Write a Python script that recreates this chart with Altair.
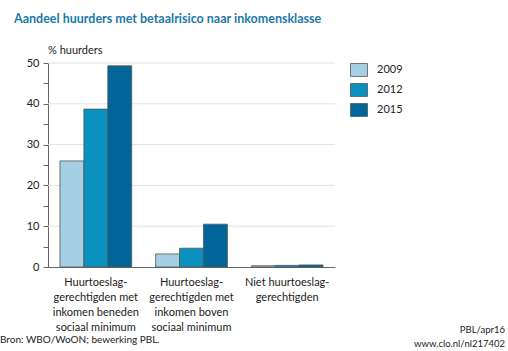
import altair as alt
import pandas as pd

categories = [
    "Huurtoeslag-|gerechtigden met|inkomen beneden|sociaal minimum",
    "Huurtoeslag-|gerechtigden met|inkomen boven|sociaal minimum",
    "Niet huurtoeslag-|gerechtigden",
]
years = ["2009", "2012", "2015"]
values_2009 = [26.0, 3.2, 0.3]
values_2012 = [38.7, 4.6, 0.4]
values_2015 = [49.3, 10.5, 0.5]
colors = ["#a5cfe4", "#0a91c0", "#00669a"]
grid_values = [10, 20, 30, 40, 50]
tick_values = [0, 5, 10, 15, 20, 25, 30, 35, 40, 45, 50]

rows = []
for yr, vals in zip(years, [values_2009, values_2012, values_2015]):
    for c, v in zip(categories, vals):
        rows.append({"cat": c, "year": yr, "value": v})
df = pd.DataFrame(rows)

FONT = "Lato"
yscale = alt.Scale(domain=[0, 50], nice=False)
yaxis = alt.Axis(
    title=None,
    values=tick_values,
    labelExpr="datum.value % 10 == 0 ? datum.label : ''",
    grid=False,
    domainColor="#666666",
    tickColor="#666666",
    tickSize=5,
    labelFont=FONT,
    labelFontSize=11,
    labelPadding=4,
    labelColor="#222222",
)

grid = alt.Chart(pd.DataFrame({"g": grid_values})).mark_rule(
    color="#e3e3e3", strokeWidth=1
).encode(y=alt.Y("g:Q", scale=yscale, axis=yaxis))

bars = alt.Chart(df).mark_bar(stroke="#555555", strokeWidth=0.8).encode(
    x=alt.X(
        "cat:N",
        sort=categories,
        scale=alt.Scale(paddingInner=0.25, paddingOuter=0.125),
        axis=alt.Axis(
            title=None,
            labelAngle=0,
            ticks=False,
            domainColor="#666666",
            labelExpr="split(datum.label, '|')",
            labelFont=FONT,
            labelFontSize=11,
            labelLineHeight=15,
            labelPadding=9,
            labelColor="#222222",
        ),
    ),
    xOffset=alt.XOffset("year:N", sort=years),
    y=alt.Y("value:Q", scale=yscale, axis=yaxis),
    color=alt.Color(
        "year:N",
        sort=years,
        scale=alt.Scale(domain=years, range=colors),
        legend=alt.Legend(
            title=None,
            orient="none",
            legendX=302,
            legendY=-2,
            symbolType="M-1,-0.76H1V0.76H-1Z",
            symbolSize=289,
            symbolStrokeColor="#555555",
            symbolStrokeWidth=0.8,
            symbolOpacity=1,
            rowPadding=2,
            labelOffset=9,
            labelFont=FONT,
            labelFontSize=11,
            labelColor="#222222",
        ),
    ),
)

def txt(s, x, y, size=11, color="#222222", align="left", weight="normal"):
    return alt.Chart(pd.DataFrame({"t": [s]})).mark_text(
        align=align, baseline="alphabetic", font=FONT, fontSize=size,
        color=color, fontWeight=weight,
    ).encode(text="t:N", x=alt.value(x), y=alt.value(y))

texts = [
    txt("Aandeel huurders met betaalrisico naar inkomensklasse", -34, -40,
        size=12.5, color="#1b7aa6", weight="bold"),
    txt("% huurders", 0, -9, size=11),
    txt("Bron: WBO/WoON; bewerking PBL.", -48, 280, size=10),
    txt("PBL/apr16", 457, 270, size=9.5, align="right"),
    txt("www.clo.nl/nl217402", 457, 284, size=9.5, align="right"),
]

chart = alt.layer(grid, bars, *texts).properties(
    width=287,
    height=204,
    padding={"left": 48, "top": 63, "right": 173, "bottom": 84},
    autosize=alt.AutoSizeParams(type="none"),
    background="white",
).configure_view(stroke=None)

chart.save("out.html", embed_options={"renderer": "svg", "actions": False})
